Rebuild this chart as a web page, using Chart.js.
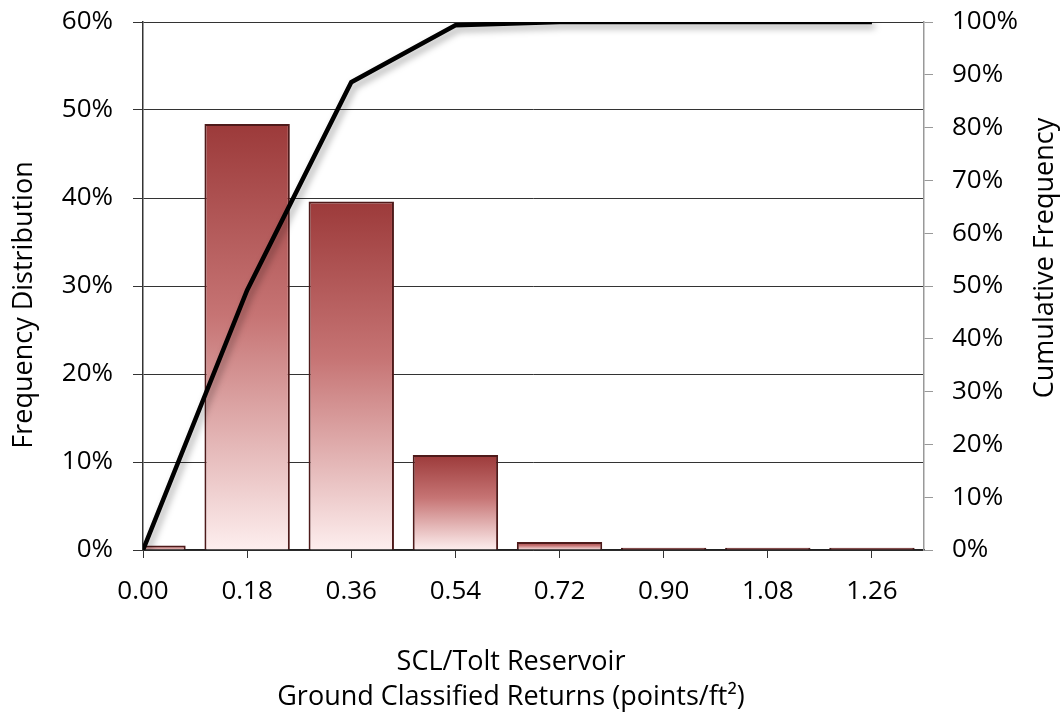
<!DOCTYPE html>
<html>
<head>
<meta charset="utf-8">
<script src="https://cdn.jsdelivr.net/npm/chart.js@4.4.1/dist/chart.umd.min.js"></script>
<style>
  html, body { margin: 0; padding: 0; background: #fff; }
  #wrap { width: 1063px; height: 715px; position: relative; }
</style>
</head>
<body>
<div id="wrap"><canvas id="c" width="1063" height="715"></canvas></div>
<script>
// ---- data ----
const binLabels = [0.00, 0.18, 0.36, 0.54, 0.72, 0.90, 1.08, 1.26];
const frequency = [0.5, 48.4, 39.6, 10.8, 0.9, 0.25, 0.25, 0.25];   // % (left axis)
const cumulative = [0, 49.2, 88.6, 99.4, 100, 100, 100, 100];       // % (right axis)
const leftTitle = 'Frequency Distribution';
const rightTitle = 'Cumulative Frequency';
const bottomTitle = ['SCL/Tolt Reservoir', 'Ground Classified Returns (points/ft\u00B2)'];

const FONT = '"Open Sans", "DejaVu Sans", sans-serif';
const halfStep = (binLabels[1] - binLabels[0]) / 2;

function barGradient(ctx) {
  const chart = ctx.chart;
  if (!chart.chartArea || !ctx.parsed) return '#b05050';
  const ys = chart.scales.y;
  const top = ys.getPixelForValue(ctx.parsed.y);
  const bottom = ys.getPixelForValue(0);
  if (bottom - top < 3) return '#b04a4a';
  const g = chart.ctx.createLinearGradient(0, top, 0, bottom);
  g.addColorStop(0, '#9c3a3a');
  g.addColorStop(0.45, '#c67474');
  g.addColorStop(1, '#fdeeee');
  return g;
}

const shadowPlugin = {
  id: 'lineShadow',
  beforeDatasetDraw(chart, args) {
    if (chart.data.datasets[args.index].type === 'line') {
      const c = chart.ctx;
      c.save();
      c.shadowColor = 'rgba(0,0,0,0.35)';
      c.shadowBlur = 7;
      c.shadowOffsetX = 3;
      c.shadowOffsetY = 4;
    }
  },
  afterDatasetDraw(chart, args) {
    if (chart.data.datasets[args.index].type === 'line') chart.ctx.restore();
  }
};

const titlePlugin = {
  id: 'axisTitles',
  afterDraw(chart) {
    const c = chart.ctx;
    c.save();
    c.fillStyle = '#000';
    c.font = '27px ' + FONT;
    c.textAlign = 'center';
    c.textBaseline = 'middle';
    c.save();
    c.translate(24, 305);
    c.rotate(-Math.PI / 2);
    c.fillText(leftTitle, 0, 0);
    c.restore();
    c.save();
    c.translate(1045, 258);
    c.rotate(-Math.PI / 2);
    c.fillText(rightTitle, 0, 0);
    c.restore();
    c.fillText(bottomTitle[0], 511, 662);
    c.fillText(bottomTitle[1], 511, 697);
    c.restore();
  }
};

function fixVertical(width) {
  return function (scale) {
    scale.width = width;
    scale.paddingTop = 0;
    scale.paddingBottom = 0;
  };
}

new Chart(document.getElementById('c'), {
  data: {
    datasets: [
      {
        type: 'line',
        label: 'Cumulative Frequency',
        data: binLabels.map((x, i) => ({ x: x, y: cumulative[i] })),
        yAxisID: 'y2',
        borderColor: '#000',
        borderWidth: 4.5,
        pointRadius: 0,
        tension: 0,
        order: 0
      },
      {
        type: 'bar',
        label: 'Frequency Distribution',
        data: binLabels.map((x, i) => ({ x: x, y: frequency[i] })),
        yAxisID: 'y',
        backgroundColor: barGradient,
        borderColor: '#4e1a1a',
        borderWidth: 2,
        categoryPercentage: 1,
        barPercentage: 0.82,
        order: 1
      }
    ]
  },
  options: {
    responsive: false,
    animation: false,
    devicePixelRatio: 1,
    layout: { padding: { top: 22, left: 0, right: 0, bottom: 0 } },
    plugins: { legend: { display: false }, tooltip: { enabled: false } },
    scales: {
      x: {
        type: 'linear',
        position: 'bottom',
        offset: false,
        min: binLabels[0],
        max: binLabels[binLabels.length - 1] + halfStep,
        afterBuildTicks(scale) { scale.ticks = binLabels.map(v => ({ value: v })); },
        afterFit(scale) { scale.height = 165; scale.paddingLeft = 0; scale.paddingRight = 0; },
        ticks: {
          callback: v => Number(v).toFixed(2),
          color: '#000',
          font: { family: FONT, size: 26 },
          padding: 18,
          maxRotation: 0,
          autoSkip: false
        },
        grid: { offset: false, drawOnChartArea: false, tickLength: 8, color: '#333', lineWidth: 1 },
        border: { color: '#222', width: 1.5 }
      },
      y: {
        position: 'left',
        min: 0, max: 60,
        afterFit: fixVertical(143),
        ticks: {
          stepSize: 10,
          callback: v => v + '%',
          color: '#000',
          font: { family: FONT, size: 26 },
          padding: 20
        },
        grid: { color: '#333', lineWidth: 1, tickLength: 10 },
        border: { color: '#333', width: 1.5 }
      },
      y2: {
        position: 'right',
        min: 0, max: 100,
        afterFit: fixVertical(139),
        ticks: {
          stepSize: 10,
          callback: v => v + '%',
          color: '#000',
          font: { family: FONT, size: 26 },
          padding: 19
        },
        grid: { drawOnChartArea: false, color: '#999', lineWidth: 1, tickLength: 9 },
        border: { color: '#999', width: 1.5 }
      }
    }
  },
  plugins: [shadowPlugin, titlePlugin]
});
</script>
</body>
</html>
